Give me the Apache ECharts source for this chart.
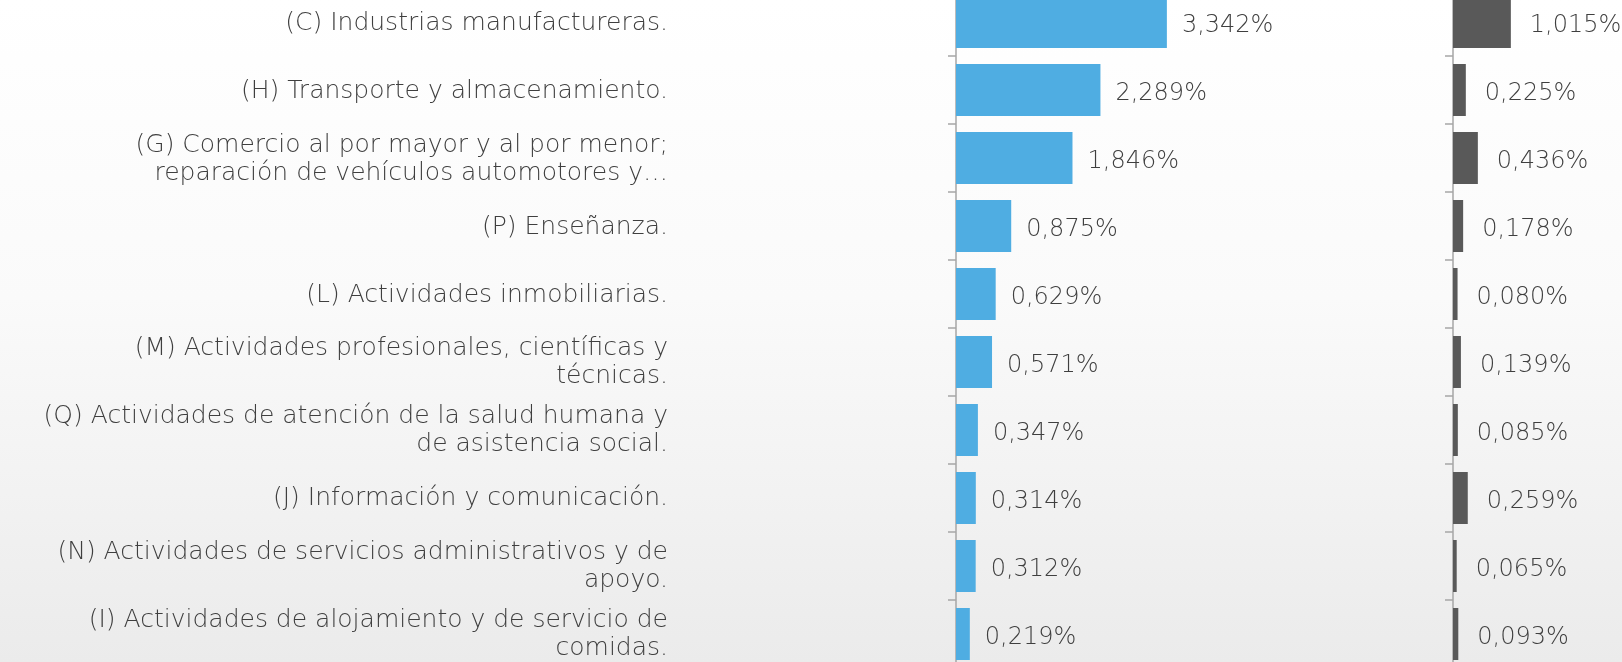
<!DOCTYPE html>
<html>
<head>
<meta charset="utf-8">
<script src="https://cdn.jsdelivr.net/npm/echarts@6/dist/echarts.min.js"></script>
<style>
html,body{margin:0;padding:0;}
#c{width:1622px;height:662px;}
</style>
</head>
<body>
<div id="c"></div>
<script>
const categories = [
  "(C) Industrias manufactureras.",
  "(H) Transporte y almacenamiento.",
  "(G) Comercio al por mayor y al por menor;\nreparación de vehículos automotores y…",
  "(P) Enseñanza.",
  "(L) Actividades inmobiliarias.",
  "(M) Actividades profesionales, científicas y\ntécnicas.",
  "(Q) Actividades de atención de la salud humana y\nde asistencia social.",
  "(J) Información y comunicación.",
  "(N) Actividades de servicios administrativos y de\napoyo.",
  "(I) Actividades de alojamiento y de servicio de\ncomidas."
];
const blueValues = [3.342, 2.289, 1.846, 0.875, 0.629, 0.571, 0.347, 0.314, 0.312, 0.219];
const grayValues = [1.015, 0.225, 0.436, 0.178, 0.080, 0.139, 0.085, 0.259, 0.065, 0.093];

const FONT = "'DejaVu Sans', sans-serif";
const TEXT = '#3f3f3f';
const AXIS = '#a6a6a6';
const fmt = p => p.value.toFixed(3).replace('.', ',') + '%';

const chart = echarts.init(document.getElementById('c'));
chart.setOption({
  backgroundColor: {
    type: 'linear', x: 0, y: 0, x2: 0, y2: 1,
    colorStops: [
      {offset: 0, color: '#ffffff'},
      {offset: 0.45, color: '#fafafa'},
      {offset: 1, color: '#ebebeb'}
    ]
  },
  animation: false,
  grid: [
    {left: 956, width: 252.4, top: -12, height: 680, outerBoundsMode: 'none', containLabel: false},
    {left: 1453, width: 228, top: -12, height: 680, outerBoundsMode: 'none', containLabel: false},
    {left: 956, width: 252.4, top: -10, height: 678, outerBoundsMode: 'none', containLabel: false}
  ],
  xAxis: [
    {gridIndex: 0, type: 'value', min: 0, max: 4, show: false},
    {gridIndex: 1, type: 'value', min: 0, max: 4, show: false},
    {gridIndex: 2, type: 'value', min: 0, max: 4, show: false}
  ],
  yAxis: [
    {
      gridIndex: 0, type: 'category', data: categories, inverse: true,
      axisLine: {show: true, lineStyle: {color: AXIS, width: 1.5}},
      axisTick: {show: true, length: 8, lineStyle: {color: AXIS, width: 1.5}},
      axisLabel: {show: false},
      splitLine: {show: false}
    },
    {
      gridIndex: 1, type: 'category', data: categories, inverse: true,
      axisLine: {show: true, lineStyle: {color: AXIS, width: 1.5}},
      axisTick: {show: true, length: 8, lineStyle: {color: AXIS, width: 1.5}},
      axisLabel: {show: false},
      splitLine: {show: false}
    },
    {
      gridIndex: 2, type: 'category', data: categories, inverse: true,
      axisLine: {show: false},
      axisTick: {show: false},
      axisLabel: {
        margin: 288, color: TEXT, fontFamily: FONT, fontSize: 25, fontWeight: 200,
        lineHeight: 28, align: 'right'
      },
      splitLine: {show: false}
    }
  ],
  series: [
    {
      type: 'bar', xAxisIndex: 0, yAxisIndex: 0, data: blueValues,
      barCategoryGap: '23.5%',
      itemStyle: {color: '#4fade2'},
      label: {show: true, position: 'right', distance: 15, offset: [0, 4], color: TEXT,
        fontFamily: FONT, fontSize: 24, fontWeight: 200, formatter: fmt}
    },
    {
      type: 'bar', xAxisIndex: 1, yAxisIndex: 1, data: grayValues,
      barCategoryGap: '23.5%',
      itemStyle: {color: '#595959'},
      label: {show: true, position: 'right', distance: 19, offset: [0, 4], color: TEXT,
        fontFamily: FONT, fontSize: 24, fontWeight: 200, formatter: fmt}
    }
  ]
});
</script>
</body>
</html>
